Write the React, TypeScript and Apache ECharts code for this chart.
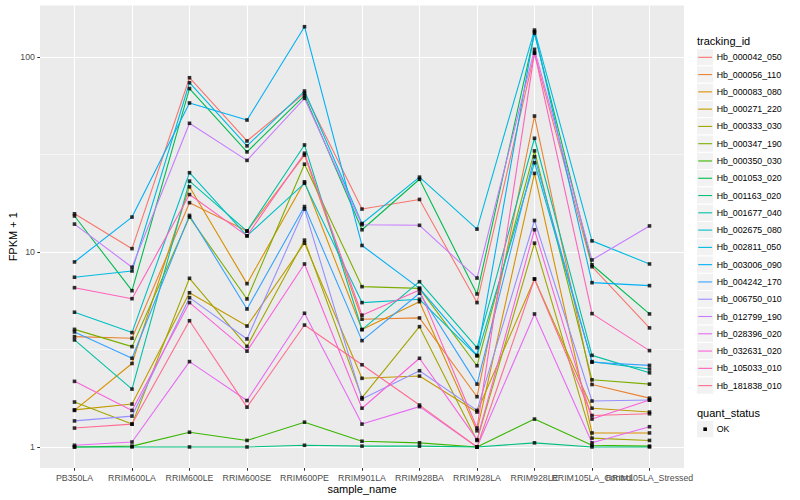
import React, { useEffect, useRef } from "react";
import * as echarts from "echarts";

const FONT = "'Liberation Sans', Arial, Helvetica, sans-serif";

const sampleNames = [
  "PB350LA",
  "RRIM600LA",
  "RRIM600LE",
  "RRIM600SE",
  "RRIM600PE",
  "RRIM901LA",
  "RRIM928BA",
  "RRIM928LA",
  "RRIM928LE",
  "RRIM105LA_Control",
  "RRIM105LA_Stressed",
];

const trackingIds = [
  "Hb_000042_050",
  "Hb_000056_110",
  "Hb_000083_080",
  "Hb_000271_220",
  "Hb_000333_030",
  "Hb_000347_190",
  "Hb_000350_030",
  "Hb_001053_020",
  "Hb_001163_020",
  "Hb_001677_040",
  "Hb_002675_080",
  "Hb_002811_050",
  "Hb_003006_090",
  "Hb_004242_170",
  "Hb_006750_010",
  "Hb_012799_190",
  "Hb_028396_020",
  "Hb_032631_020",
  "Hb_105033_010",
  "Hb_181838_010",
];

// FPKM + 1 per sample (order of sampleNames)
const hb000042_050 = [15.7, 10.4, 78.3, 37.1, 65.1, 16.6, 18.6, 5.5, 104.5, 8.4, 4.08];
const hb000056_110 = [3.68, 3.61, 17.9, 12.8, 31.4, 4.52, 4.59, 1.81, 49.8, 2.09, 1.78];
const hb000083_080 = [1.54, 2.68, 21.6, 6.88, 22.9, 4.0, 5.56, 1.21, 25.3, 1.18, 1.18];
const hb000271_220 = [1.55, 1.66, 6.18, 4.17, 11.1, 2.25, 2.31, 1.51, 7.27, 1.58, 1.51];
const hb000333_030 = [1.7, 1.31, 7.33, 3.28, 11.5, 1.79, 4.14, 1.08, 11.1, 1.11, 1.08];
const hb000347_190 = [4.01, 3.27, 15.1, 5.74, 28.2, 6.64, 6.51, 2.61, 33.0, 2.21, 2.1];
const hb000350_030 = [1.0, 1.01, 1.19, 1.08, 1.34, 1.07, 1.05, 1.0, 1.39, 1.02, 1.01];
const hb001053_020 = [15.3, 6.33, 68.9, 32.6, 63.3, 13.0, 23.6, 6.09, 132.3, 8.6, 4.81];
const hb001163_020 = [1.0, 1.0, 1.0, 1.0, 1.02, 1.01, 1.01, 1.0, 1.05, 1.0, 1.0];
const hb001677_040 = [3.54, 1.98, 23.1, 12.8, 35.4, 4.0, 7.04, 3.23, 38.3, 2.95, 2.4];
const hb002675_080 = [4.91, 3.86, 25.5, 12.1, 22.5, 5.5, 5.72, 2.93, 28.7, 2.74, 2.51];
const hb002811_050 = [7.42, 7.99, 73.8, 35.0, 66.9, 14.0, 24.2, 13.1, 137.5, 11.4, 8.68];
const hb003006_090 = [8.89, 15.1, 58.1, 47.5, 143.0, 10.8, 6.51, 2.95, 134.8, 6.96, 6.72];
const hb004242_170 = [3.89, 2.85, 15.4, 5.1, 17.1, 3.51, 6.14, 2.1, 30.8, 2.72, 2.62];
const hb006750_010 = [1.36, 1.44, 5.83, 3.58, 16.6, 1.76, 2.46, 1.54, 14.5, 1.72, 1.74];
const hb012799_190 = [13.9, 8.35, 45.7, 29.5, 61.4, 13.8, 13.7, 7.35, 109.5, 9.1, 13.6];
const hb028396_020 = [1.02, 1.06, 2.74, 1.73, 4.85, 1.31, 1.61, 1.0, 4.81, 1.05, 1.27];
const hb032631_020 = [2.17, 1.54, 5.5, 3.1, 8.68, 1.58, 2.85, 1.09, 13.0, 1.39, 1.74];
const hb105033_010 = [6.56, 5.76, 19.7, 12.1, 32.1, 4.74, 6.39, 1.25, 105.2, 4.83, 3.12];
const hb181838_010 = [1.25, 1.31, 4.44, 1.6, 4.22, 2.64, 1.64, 1.0, 7.27, 1.45, 1.48];

const seriesValues = [
  hb000042_050, hb000056_110, hb000083_080, hb000271_220, hb000333_030,
  hb000347_190, hb000350_030, hb001053_020, hb001163_020, hb001677_040,
  hb002675_080, hb002811_050, hb003006_090, hb004242_170, hb006750_010,
  hb012799_190, hb028396_020, hb032631_020, hb105033_010, hb181838_010,
];

const quantStatus = ["OK"];

const yTickValues = [1, 10, 100];
const yTickLabels = ["1", "10", "100"];
const yMinorValues = [Math.sqrt(10), Math.sqrt(1000)];

const palette = [
  "#F8766D", "#EA8331", "#D89000", "#C09B00", "#A3A500",
  "#7CAE00", "#39B600", "#00BB4E", "#00BF7D", "#00C1A3",
  "#00BFC4", "#00BAE0", "#00B0F6", "#35A2FF", "#9590FF",
  "#C77CFF", "#E76BF3", "#FA62DB", "#FF62BC", "#FF6C91",
];

const axisLabelBase = {
  color: "#4D4D4D",
  fontSize: 8.8,
  fontFamily: FONT,
  margin: 5,
  showMinLabel: true,
  showMaxLabel: true,
  hideOverlap: false,
};

function sampleLabel(v: number) {
  const r = Math.round(v);
  if (Math.abs(v - r) > 1e-6) return "";
  return sampleNames[r] ?? "";
}

function buildOption() {
  const xIdx = sampleNames.map((_, i) => i);
  const xEven = xIdx.filter((i) => i % 2 === 0);
  const xOdd = xIdx.filter((i) => i % 2 === 1);

  const lineSeries = trackingIds.map((id, k) => ({
    type: "line",
    name: id,
    xAxisIndex: 0,
    yAxisIndex: 0,
    data: seriesValues[k].map((v, i) => [i, v]),
    showSymbol: false,
    symbol: "none",
    lineStyle: { color: palette[k], width: 1.1 },
    itemStyle: { color: palette[k] },
    emphasis: { disabled: true },
    silent: true,
    z: 2,
  }));

  const points: number[][] = [];
  seriesValues.forEach((vals) => vals.forEach((v, i) => points.push([i, v])));

  const gridHelper = {
    type: "line",
    name: "minor-grid",
    xAxisIndex: 0,
    yAxisIndex: 0,
    data: [],
    silent: true,
    z: 1,
    markLine: {
      silent: true,
      z: 1,
      symbol: ["none", "none"],
      label: { show: false },
      emphasis: { disabled: true },
      lineStyle: { color: "#FFFFFF", width: 0.55, type: "solid" },
      data: yMinorValues.map((v) => ({ yAxis: v })),
    },
  };

  const pointSeries = {
    type: "scatter",
    name: quantStatus[0],
    xAxisIndex: 0,
    yAxisIndex: 0,
    data: points,
    symbol: "rect",
    symbolSize: 3.6,
    itemStyle: { color: "#000000" },
    emphasis: { disabled: true },
    silent: true,
    z: 3,
  };

  const KEY = 17.28;
  const legendTop = 48.66;
  const keyX = 696.5;
  const textX = 716.7;
  const graphic: any[] = [
    {
      type: "text",
      x: 697,
      y: 40.7,
      style: { text: "tracking_id", fill: "#000000", fontSize: 11, fontFamily: FONT, verticalAlign: "middle", align: "left" },
    },
  ];
  trackingIds.forEach((id, k) => {
    const cy = legendTop + k * KEY + KEY / 2;
    graphic.push({
      type: "rect",
      shape: { x: keyX, y: cy - KEY / 2, width: KEY, height: KEY },
      style: { fill: "#F2F2F2", stroke: "#FFFFFF", lineWidth: 1 },
    });
    graphic.push({
      type: "line",
      shape: { x1: keyX + 1.7, y1: cy, x2: keyX + KEY - 1.7, y2: cy },
      style: { stroke: palette[k], lineWidth: 1.1 },
    });
    graphic.push({
      type: "text",
      x: textX,
      y: cy,
      style: { text: id, fill: "#000000", fontSize: 8.8, fontFamily: FONT, verticalAlign: "middle", align: "left" },
    });
  });
  const qTitleY = 412.7;
  const okY = 429.2;
  graphic.push({
    type: "text",
    x: 697,
    y: qTitleY,
    style: { text: "quant_status", fill: "#000000", fontSize: 11, fontFamily: FONT, verticalAlign: "middle", align: "left" },
  });
  graphic.push({
    type: "rect",
    shape: { x: keyX, y: okY - KEY / 2, width: KEY, height: KEY },
    style: { fill: "#F2F2F2", stroke: "#FFFFFF", lineWidth: 1 },
  });
  graphic.push({
    type: "rect",
    shape: { x: keyX + KEY / 2 - 1.8, y: okY - 1.8, width: 3.6, height: 3.6 },
    style: { fill: "#000000" },
  });
  graphic.push({
    type: "text",
    x: textX,
    y: okY,
    style: { text: quantStatus[0], fill: "#000000", fontSize: 8.8, fontFamily: FONT, verticalAlign: "middle", align: "left" },
  });

  return {
    animation: false,
    backgroundColor: "#FFFFFF",
    textStyle: { fontFamily: FONT },
    grid: {
      left: 40,
      right: 116,
      top: 5.5,
      bottom: 32,
      containLabel: false,
      outerBoundsMode: "none",
      show: true,
      backgroundColor: "#EBEBEB",
      borderWidth: 0,
    },
    xAxis: [
      {
        type: "value",
        min: -0.6,
        max: 10.6,
        splitNumber: 11,
        position: "bottom",
        name: "sample_name",
        nameLocation: "middle",
        nameGap: 15,
        nameMoveOverlap: false,
        nameTextStyle: { color: "#000000", fontSize: 11, fontFamily: FONT },
        axisLine: { show: false, onZero: false },
        axisTick: { show: true, length: 2.75, customValues: xIdx, lineStyle: { color: "#333333", width: 1 } },
        axisLabel: { ...axisLabelBase, customValues: xEven, formatter: sampleLabel },
        splitLine: { show: true, lineStyle: { color: "#FFFFFF", width: 1.1 } },
      },
      {
        type: "value",
        min: -0.6,
        max: 10.6,
        splitNumber: 11,
        position: "bottom",
        offset: 0,
        axisLine: { show: false, onZero: false },
        axisTick: { show: false },
        axisLabel: { ...axisLabelBase, customValues: xOdd, formatter: sampleLabel },
        splitLine: { show: false },
      },
    ],
    yAxis: {
      type: "log",
      logBase: 10,
      min: 0.78,
      max: 183.7,
      name: "FPKM + 1",
      nameLocation: "middle",
      nameRotate: 90,
      nameGap: 22,
      nameMoveOverlap: false,
      nameTextStyle: { color: "#000000", fontSize: 11, fontFamily: FONT },
      axisLine: { show: false, onZero: false },
      axisTick: { show: true, length: 2.75, customValues: yTickValues, lineStyle: { color: "#333333", width: 1 } },
      axisLabel: {
        ...axisLabelBase,
        customValues: yTickValues,
        formatter: (v: number) => {
          const l = Math.log10(v);
          const r = Math.round(l);
          if (Math.abs(l - r) > 1e-6) return "";
          const idx = yTickValues.indexOf(Math.pow(10, r));
          return idx >= 0 ? yTickLabels[idx] : "";
        },
      },
      splitLine: { show: true, lineStyle: { color: "#FFFFFF", width: 1.1 } },
      minorSplitLine: { show: false },
    },
    graphic,
    series: [gridHelper, ...lineSeries, pointSeries],
  };
}

export default function App() {
  const ref = useRef<HTMLDivElement>(null);
  useEffect(() => {
    document.body.style.margin = "0";
    if (!ref.current) return;
    const chart = echarts.init(ref.current, null, { renderer: "svg", width: 800, height: 500 });
    chart.setOption(buildOption() as any);
    return () => chart.dispose();
  }, []);
  return <div ref={ref} style={{ width: 800, height: 500, position: "fixed", left: 0, top: 0 }} />;
}
